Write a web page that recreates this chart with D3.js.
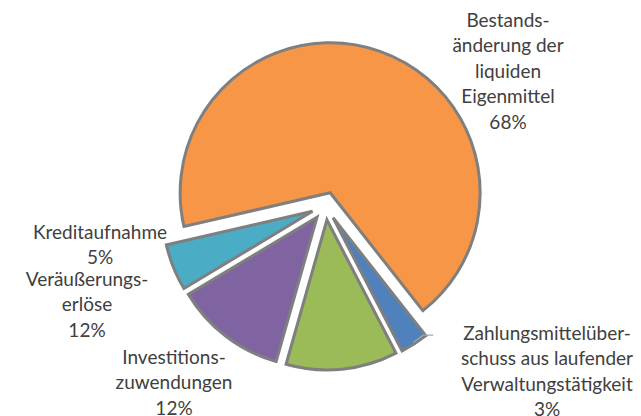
<!DOCTYPE html>
<html>
<head>
<meta charset="utf-8">
<script src="https://cdn.jsdelivr.net/npm/d3@7"></script>
<style>
  html, body { margin: 0; padding: 0; background: #fff; }
  text { font-family: Lato, "Open Sans", sans-serif; fill: #404040; }
</style>
</head>
<body>
<div id="chart"></div>
<script>
// Slices, in drawing order (clockwise)
const categories = [
  "Bestandsänderung der liquiden Eigenmittel",
  "Zahlungsmittelüberschuss aus laufender Verwaltungstätigkeit",
  "Investitionszuwendungen",
  "Veräußerungserlöse",
  "Kreditaufnahme"
];
const values = [68, 3, 12, 12, 5];
const labelLines = [
  ["Bestands-", "änderung der", "liquiden", "Eigenmittel", "68%"],
  ["Zahlungsmittelüber-", "schuss aus laufender", "Verwaltungstätigkeit", "3%"],
  ["Investitions-", "zuwendungen", "12%"],
  ["Veräußerungs-", "erlöse", "12%"],
  ["Kreditaufnahme", "5%"]
];
const colors = ["#F79646", "#4F81BD", "#9BBB59", "#8064A2", "#4BACC6"];

const width = 641, height = 416;
const cx = 325.5, cy = 206, radius = 150, explode = 14;
const startDeg = 257;

// label block centres (first line), line spacing
const labelAnchors = [[508, 20], [547, 333], [174, 357], [87, 279], [100, 232]];
const lineGap = 25.5;

const svg = d3.select("#chart").append("svg")
  .attr("width", width)
  .attr("height", height);

const pie = d3.pie().sort(null).value(d => d)
  .startAngle(startDeg * Math.PI / 180)
  .endAngle(startDeg * Math.PI / 180 + 2 * Math.PI);
const arc = d3.arc().innerRadius(0).outerRadius(radius);
const arcs = pie(values);

const g = svg.append("g").attr("transform", `translate(${cx},${cy})`);

g.selectAll("path")
  .data(arcs)
  .join("path")
  .attr("d", arc)
  .attr("transform", d => {
    const mid = (d.startAngle + d.endAngle) / 2;
    return `translate(${Math.sin(mid) * explode},${-Math.cos(mid) * explode})`;
  })
  .attr("fill", (d, i) => colors[i])
  .attr("stroke", "#7f7f7f")
  .attr("stroke-width", 3)
  .attr("stroke-linejoin", "miter");

// leader line for the small blue slice
const blue = arcs[1];
const bMid = (blue.startAngle + blue.endAngle) / 2;
const bx = Math.sin(bMid) * (radius + explode - 2);
const by = -Math.cos(bMid) * (radius + explode - 2);
g.append("path")
  .attr("d", d3.line()([[bx, by], [bx + 10, by - 7], [bx + 20, by - 7]]))
  .attr("fill", "none")
  .attr("stroke", "#a6a6a6")
  .attr("stroke-width", 1.2);

labelLines.forEach((lines, i) => {
  const [lx, ly] = labelAnchors[i];
  const t = svg.append("text")
    .attr("text-anchor", "middle")
    .attr("font-size", 19);
  lines.forEach((s, j) => {
    t.append("tspan")
      .attr("x", lx)
      .attr("y", ly + j * lineGap)
      .attr("dy", "0.35em")
      .text(s);
  });
});
</script>
</body>
</html>
